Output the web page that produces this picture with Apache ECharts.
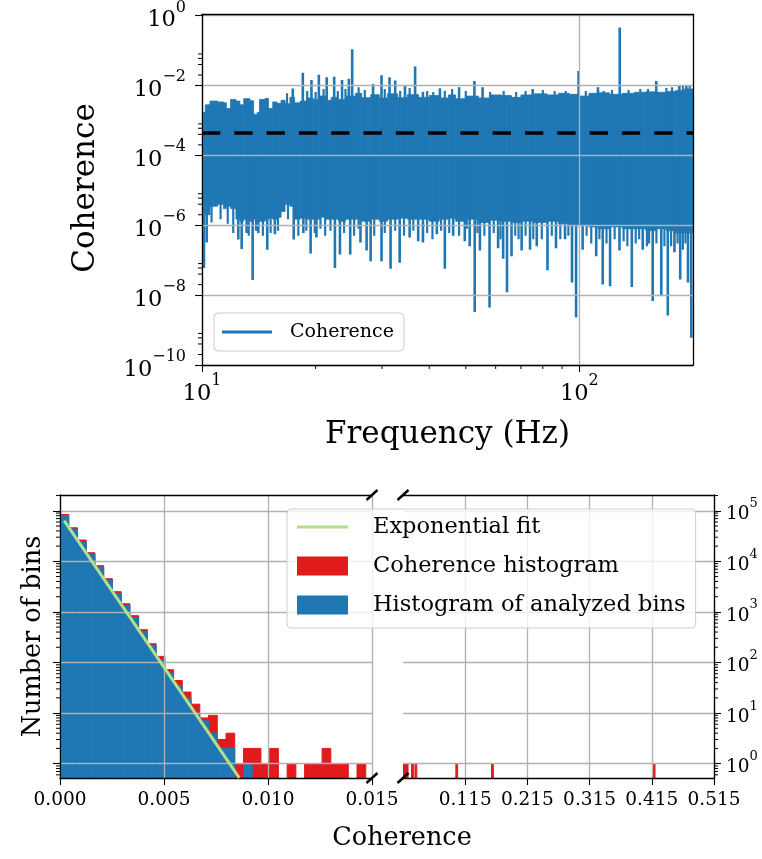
<!DOCTYPE html>
<html>
<head>
<meta charset="utf-8">
<script src="https://cdn.jsdelivr.net/npm/echarts@6/dist/echarts.min.js"></script>
<style>
html, body { margin: 0; padding: 0; background: #ffffff; }
#chart { width: 762px; height: 859px; }
</style>
</head>
<body>
<div id="chart"></div>
<script>
// ================= TOP PANEL DATA (coherence spectrum) =================
const freqRange = [10, 200];                // Hz
const coherenceRangeExp = [-10, 0.04];      // log10 of y-axis limits
const topXTickExp = [1, 2];                 // 10^1, 10^2
const topYTickExp = [-10, -8, -6, -4, -2, 0];
const topXMinorHz = [20, 30, 40, 50, 60, 70, 80, 90];
const topYMinor = [2e-2, 4e-2, 6e-2, 8e-2, 2e-4, 4e-4, 6e-4, 8e-4, 2e-6, 4e-6, 6e-6, 8e-6,
                   2e-8, 4e-8, 6e-8, 8e-8, 2e-10, 4e-10, 6e-10, 8e-10];

// solid core of the coherence trace: upper and lower envelope
const coreFreq = [10.0, 10.2, 10.5, 11.0, 11.4, 11.6, 11.9, 12.3, 12.6, 12.9, 13.4, 13.7, 14.0, 14.2, 14.7, 15.0,
  15.4, 15.8, 16.2, 16.6, 17.1, 17.6, 18.2, 18.9, 19.7, 20.5, 21.3, 22.0, 23.0, 24.0, 25.5, 26.5, 28.0, 29.5,
  31.0, 33.0, 35.0, 37.5, 40.0, 42.5, 45.0, 47.0, 50.0, 54.0, 58.0, 62.0, 66.0, 70.0, 76.0, 82.0, 88.0, 94.0,
  100, 106, 112, 120, 130, 140, 150, 160, 170, 180, 190, 200];
const coreHigh = [1.7e-3, 2.8e-3, 3.6e-3, 3.4e-3, 3.2e-3, 2.2e-3, 4.0e-3, 3.6e-3, 2.8e-3, 4.2e-3, 3.7e-3, 1.5e-3,
  1.7e-3, 4.0e-3, 4.3e-3, 2.2e-3, 3.4e-3, 3.1e-3, 3.8e-3, 3.0e-3, 4.6e-3, 3.2e-3, 3.6e-3, 4.4e-3, 4.0e-3, 5.0e-3,
  3.8e-3, 4.6e-3, 4.0e-3, 5.0e-3, 6.0e-3, 4.5e-3, 5.5e-3, 4.4e-3, 5.8e-3, 4.5e-3, 5.5e-3, 4.6e-3, 5.2e-3, 4.4e-3,
  5.4e-3, 4.2e-3, 5.0e-3, 4.4e-3, 5.4e-3, 5.2e-3, 4.6e-3, 5.4e-3, 5.8e-3, 5.4e-3, 6.0e-3, 5.6e-3, 5.0e-3, 6.0e-3,
  6.2e-3, 5.6e-3, 6.0e-3, 6.4e-3, 6.6e-3, 6.4e-3, 6.8e-3, 7.2e-3, 8.0e-3, 7.5e-3];
const coreLow = [2.5e-6, 2e-6, 3.5e-6, 4e-6, 3e-6, 3.5e-6, 3e-6, 1.5e-6, 1.3e-6, 1.5e-6, 1.3e-6, 1.5e-6, 1.6e-6,
  1.3e-6, 1.5e-6, 1.6e-6, 1.5e-6, 1.7e-6, 2.5e-6, 4e-6, 3.5e-6, 1.5e-6, 1.6e-6, 1.5e-6, 1.5e-6, 1.7e-6, 1.5e-6,
  1.5e-6, 1.3e-6, 1.5e-6, 1.5e-6, 1.3e-6, 1.5e-6, 1.3e-6, 1.5e-6, 1.6e-6, 1.5e-6, 1.5e-6, 1.3e-6, 1.5e-6, 1.6e-6,
  1.3e-6, 1.5e-6, 1.2e-6, 1.4e-6, 1.3e-6, 1.2e-6, 1.3e-6, 1.2e-6, 1.3e-6, 1.1e-6, 1e-6, 1e-6, 9e-7, 8e-7, 9e-7,
  8e-7, 8e-7, 7e-7, 8e-7, 7e-7, 6e-7, 6e-7, 5e-7];

// isolated excursions of the trace
const spikeUpFreq = [17.4, 18.5, 19.5, 20.4, 21.4, 22.4, 23.5, 24.5, 25.0, 28.4, 29.9, 31.4, 32.5, 34.5, 36.7,
  38.5, 42.7, 48.0, 52.7, 55.4, 75.2, 99.5, 112, 127.9, 159.8, 184, 192];
const spikeUpValue = [8.3e-3, 0.0234, 0.0145, 0.0205, 0.0173, 0.018, 0.0145, 0.0156, 0.11, 0.011, 0.0197, 0.0174,
  0.0139, 0.0098, 0.035, 0.0067, 0.0084, 0.009, 0.0136, 0.009, 0.008, 0.026, 0.009, 0.46, 0.0136, 0.0098, 0.0098];
// small teeth along the upper edge
const toothUpFreq = [16.8, 19.0, 20.0, 21.0, 22.9, 24.0, 26.0, 27.0, 30.5, 33.5, 35.5, 39.5, 41.0, 44.0, 46.0,
  50.0, 58.0, 63.0, 68.0, 72.0, 80.0, 86.0, 92.0, 104, 116, 122, 135, 145, 152, 170, 176, 188, 196];
const toothUpValue = [6e-3, 7e-3, 6.5e-3, 8e-3, 7e-3, 8e-3, 9e-3, 7.5e-3, 8e-3, 7e-3, 8.5e-3, 7e-3, 6.5e-3, 7e-3,
  8e-3, 7e-3, 6.5e-3, 7e-3, 6.5e-3, 7e-3, 7.5e-3, 7e-3, 7e-3, 7e-3, 7e-3, 7.5e-3, 7.5e-3, 8e-3, 8e-3, 8.5e-3,
  9e-3, 1e-2, 1e-2];
const spikeDownFreq = [10.12, 10.29, 12.48, 12.74, 13.13, 13.62, 14.1, 14.89, 15.6, 17.5, 18.56, 19.4, 20.1, 22.5,
  23.2, 24.7, 26.3, 27.3, 27.98, 29.9, 31.6, 33.4, 35.5, 37.4, 38.5, 41.9, 44.0, 46.3, 49.7, 51.2, 52.8, 54.5,
  57.8, 60.9, 62.8, 64.3, 66.1, 70.3, 74.0, 77.1, 82.3, 86.7, 91.6, 95.6, 98.0, 102, 110.8, 115.3, 120.6, 127.7,
  137.7, 147.2, 156.4, 164.8, 171.5, 178.6, 185, 194, 197.9];
const spikeDownValue = [6e-8, 3.2e-7, 3.9e-7, 2.1e-7, 6e-7, 2.7e-8, 6e-7, 2e-7, 5.5e-7, 3.9e-7, 6e-7, 1.55e-7,
  4.5e-7, 6e-8, 1.45e-7, 1.45e-7, 3.2e-7, 1.9e-7, 9.4e-8, 9.4e-8, 5.7e-8, 8.5e-8, 4.5e-7, 3.5e-7, 3.2e-7, 5.5e-7,
  5.7e-8, 5e-7, 3.5e-7, 2.5e-7, 3.3e-9, 1.9e-7, 4.4e-9, 2.2e-7, 1.1e-7, 1.2e-8, 1.3e-7, 1.9e-7, 2e-7, 2.5e-7,
  5.2e-8, 2.2e-7, 4e-7, 2.3e-8, 2.3e-9, 2e-7, 1.3e-7, 2e-8, 1.8e-8, 1.9e-7, 1.7e-8, 2e-7, 6.8e-9, 9.3e-9, 2.6e-9,
  1.7e-7, 2.8e-8, 2.3e-8, 6e-10];
// shallow fringe along the lower edge
const fringeDownFreq = [10.6, 11.2, 11.7, 12.1, 13.3, 13.9, 14.5, 15.2, 15.9, 16.9, 18.0, 18.9, 19.9, 20.6, 21.2,
  21.9, 23.8, 25.3, 26.0, 28.6, 30.5, 32.5, 34.3, 36.3, 39.5, 40.8, 43.0, 45.2, 48.0, 50.3, 53.7, 56.0, 59.3, 61.8,
  67.6, 69.0, 72.0, 75.5, 79.5, 84.5, 89.0, 93.5, 104.5, 107.5, 113, 118, 124, 131, 134, 141, 144, 151, 153, 160,
  168, 175, 182, 188, 191];
const fringeDownValue = [1.2e-6, 1.5e-6, 1.1e-6, 6e-7, 5e-7, 7e-7, 5e-7, 6e-7, 7e-7, 1.5e-6, 5e-7, 7e-7, 6e-7,
  8e-7, 5e-7, 7e-7, 6e-7, 5e-7, 8e-7, 5e-7, 6e-7, 7e-7, 5e-7, 7e-7, 6e-7, 4e-7, 7e-7, 6e-7, 5e-7, 8e-7, 6e-7, 5e-7,
  6e-7, 4e-7, 5e-7, 4e-7, 5e-7, 4e-7, 4e-7, 5e-7, 4e-7, 5e-7, 5e-7, 3e-7, 4e-7, 3e-7, 4e-7, 3.5e-7, 2.5e-7, 3e-7,
  4e-7, 2.5e-7, 3e-7, 3e-7, 2.5e-7, 2.5e-7, 3e-7, 2e-7, 3e-7];
const thresholdValue = 4.4e-4;

// ================= BOTTOM PANEL DATA (histograms) =================
const binWidth = 0.00042;
const coherenceHistogram = [84500, 46100, 26400, 14800, 8200, 4530, 2510, 1450, 841, 445, 235, 132, 72, 44, 26,
  15, 8, 9, 3, 4, 1, 2, 2, 1, 2, 0, 1, 0, 1, 1, 2, 1, 1, 0, 1];
const analyzedHistogram = [80000, 43500, 24600, 13700, 7700, 4200, 2320, 1350, 780, 412, 218, 114, 62, 35, 19,
  10, 7, 4, 2, 2, 0, 1];
const tailCoherence = [0.0155, 0.0175, 0.0195, 0.0215, 0.0300, 0.0355, 0.1012, 0.1586, 0.4185];
const tailCounts = [1, 1, 1, 1, 1, 1, 1, 1, 1];
const fitCoherence = [0.0002, 0.00862];
const fitCount = [63700, 0.524];
const countRange = [0.52, 2.05e5];
const breakAt = 0.015;
const leftXTicks = [0, 0.005, 0.010, 0.015];
const rightXTicks = [0.115, 0.215, 0.315, 0.415, 0.515];
const countTickExp = [0, 1, 2, 3, 4, 5];
const countMinor = [0.6, 0.7, 0.8, 0.9, 2, 3, 4, 5, 6, 7, 8, 9, 20, 30, 40, 50, 60, 70, 80, 90,
  200, 300, 400, 500, 600, 700, 800, 900, 2000, 3000, 4000, 5000, 6000, 7000, 8000, 9000,
  20000, 30000, 40000, 50000, 60000, 70000, 80000, 90000, 200000];

// ================= STYLE =================
const FONT = 'DejaVu Serif';
const BLUE = '#1f77b4';
const RED = '#e31a1c';
const GREEN = '#b2df8a';
const GRID_COLOR = '#b0b0b0';
const L10 = Math.log10;

const chart = echarts.init(document.getElementById('chart'), null, { renderer: 'canvas' });

function expLabel(v) {
  if (Math.abs(v - Math.round(v)) > 1e-6) return '';
  const n = Math.round(v);
  return '{b|10}{s|' + (n < 0 ? '\u2212' + (-n) : String(n)) + '}';
}
function richFor(base, sup) {
  return {
    b: { fontFamily: FONT, fontSize: base, color: '#000', lineHeight: base * 1.45, verticalAlign: 'bottom' },
    s: { fontFamily: FONT, fontSize: sup, color: '#000', lineHeight: sup * 1.05, verticalAlign: 'top' }
  };
}
const spineLine = { show: true, onZero: false, lineStyle: { color: '#000', width: 1.3 } };
const splitStyle = { show: true, lineStyle: { color: GRID_COLOR, width: 1.3 } };
const tickStyle = { show: true, length: 7, inside: false, lineStyle: { color: '#000', width: 1.1 } };

function spineAxis(gridIndex, position, min, max) {
  return {
    gridIndex, type: 'value', position, min, max, z: 3,
    axisLine: spineLine, axisTick: { show: false }, axisLabel: { show: false }, splitLine: { show: false }
  };
}

// ---------- renderers ----------
const coreData = coreFreq.map((f, i) => [L10(f), L10(coreHigh[i]), L10(coreLow[i])]);
function renderCore(params, api) {
  const i = params.dataIndexInside;
  if (i >= coreFreq.length - 1) return null;
  const x0 = api.value(0, i), x1 = api.value(0, i + 1);
  const hi = api.value(1, i), lo = api.value(2, i);
  const pts = [api.coord([x0, hi]), api.coord([x1, hi]), api.coord([x1, lo]), api.coord([x0, lo])];
  return { type: 'polygon', shape: { points: pts }, style: { fill: BLUE, stroke: BLUE, lineWidth: 0.8 } };
}
const midBand = L10(1e-4);
const spikeData = spikeUpFreq.map((f, i) => [L10(f), L10(spikeUpValue[i])])
  .concat(spikeDownFreq.map((f, i) => [L10(f), L10(spikeDownValue[i])]));
const fringeData = toothUpFreq.map((f, i) => [L10(f), L10(toothUpValue[i])])
  .concat(fringeDownFreq.map((f, i) => [L10(f), L10(fringeDownValue[i])]));
function spikeRenderer(width) {
  return function (params, api) {
    const p = api.coord([api.value(0), api.value(1)]);
    const q = api.coord([api.value(0), midBand]);
    return { type: 'line', shape: { x1: p[0], y1: p[1], x2: q[0], y2: q[1] }, style: { stroke: BLUE, lineWidth: width } };
  };
}
const countAxisMin = L10(countRange[0]);
const countAxisMax = L10(countRange[1]);
function barRenderer(color) {
  return function (params, api) {
    const top = api.coord([api.value(0), L10(api.value(2))]);
    const end = api.coord([api.value(1), countAxisMin]);
    let x = top[0], w = end[0] - top[0];
    if (w < 1.8) { x -= (1.8 - w) / 2; w = 1.8; }
    return { type: 'rect', shape: { x: x, y: top[1], width: w, height: end[1] - top[1] },
             style: { fill: color, stroke: color, lineWidth: 1 } };
  };
}
function tickRenderer(dx, dy) {
  return function (params, api) {
    const p = api.coord([api.value(0), api.value(1)]);
    return { type: 'line', shape: { x1: p[0], y1: p[1], x2: p[0] + dx, y2: p[1] + dy },
             style: { stroke: '#000', lineWidth: 1 } };
  };
}
function renderBreak(params, api) {
  const p = api.coord([api.value(0), api.value(1)]);
  return { type: 'line', shape: { x1: p[0] - 5.5, y1: p[1] + 5, x2: p[0] + 5.5, y2: p[1] - 5 },
           style: { stroke: '#000', lineWidth: 2.4 } };
}

const redLeft = coherenceHistogram.map((c, i) => [i * binWidth, (i + 1) * binWidth, c]).filter(d => d[2] > 0);
const blueLeft = analyzedHistogram.map((c, i) => [i * binWidth, (i + 1) * binWidth, c]).filter(d => d[2] > 0);
const redRight = tailCoherence.map((v, i) => [v - breakAt, v - breakAt + binWidth, tailCounts[i]]);

const lineIcon50 = 'path://M0,0L0,0M0,8.5L50,8.5L50,11.5L0,11.5ZM50,20L50,20';
const lineIcon51 = 'path://M0,0L0,0M0,8L51,8L51,11L0,11ZM51,19L51,19';

const option = {
  animation: false,
  backgroundColor: '#ffffff',
  textStyle: { fontFamily: FONT, color: '#000' },
  grid: [
    { left: 202, right: 69, top: 14.3, bottom: 494, outerBoundsMode: 'none' },
    { left: 60, right: 390, top: 495, bottom: 81, outerBoundsMode: 'none' },
    { left: 403, right: 48, top: 495, bottom: 81, outerBoundsMode: 'none' }
  ],
  xAxis: [
    { gridIndex: 0, type: 'value', min: L10(freqRange[0]), max: L10(freqRange[1]), interval: 1, z: 3,
      axisLine: spineLine, axisTick: Object.assign({ customValues: topXTickExp }, tickStyle),
      axisLabel: { customValues: topXTickExp, formatter: expLabel, margin: 8, rich: richFor(22.5, 16) },
      splitLine: splitStyle },
    spineAxis(0, 'top', L10(freqRange[0]), L10(freqRange[1])),
    { gridIndex: 1, type: 'value', min: 0, max: breakAt, interval: 0.005, z: 3,
      axisLine: spineLine, axisTick: Object.assign({ customValues: leftXTicks }, tickStyle),
      axisLabel: { customValues: leftXTicks, formatter: v => v.toFixed(3), margin: 13,
                   fontFamily: FONT, fontSize: 18.5, color: '#000' },
      splitLine: splitStyle },
    spineAxis(1, 'top', 0, breakAt),
    { gridIndex: 2, type: 'value', min: 0, max: 0.5, interval: 0.1, z: 3,
      axisLine: spineLine,
      axisTick: Object.assign({ customValues: rightXTicks.map(v => +(v - breakAt).toFixed(3)) }, tickStyle),
      axisLabel: { customValues: rightXTicks.map(v => +(v - breakAt).toFixed(3)),
                   formatter: v => (v + breakAt).toFixed(3), margin: 13,
                   fontFamily: FONT, fontSize: 18.5, color: '#000' },
      splitLine: splitStyle },
    spineAxis(2, 'top', 0, 0.5)
  ],
  yAxis: [
    { gridIndex: 0, type: 'value', min: coherenceRangeExp[0], max: coherenceRangeExp[1], interval: 2, z: 3,
      axisLine: spineLine, axisTick: Object.assign({ customValues: topYTickExp }, tickStyle),
      axisLabel: { customValues: topYTickExp, formatter: expLabel, margin: 16, rich: richFor(22.5, 16) },
      splitLine: splitStyle },
    spineAxis(0, 'right', coherenceRangeExp[0], coherenceRangeExp[1]),
    { gridIndex: 1, type: 'value', min: countAxisMin, max: countAxisMax, z: 3, position: 'left',
      axisLine: spineLine, axisTick: Object.assign({ customValues: countTickExp }, tickStyle),
      axisLabel: { show: false }, splitLine: splitStyle },
    { gridIndex: 2, type: 'value', min: countAxisMin, max: countAxisMax, z: 3, position: 'right',
      axisLine: spineLine, axisTick: Object.assign({ customValues: countTickExp }, tickStyle),
      axisLabel: { customValues: countTickExp, formatter: expLabel, margin: 12, rich: richFor(18.5, 13) },
      splitLine: splitStyle }
  ],
  legend: [
    { left: 214, top: 313, orient: 'horizontal', selectedMode: false,
      data: [{ name: 'Coherence', icon: lineIcon50, itemStyle: { borderWidth: 0 } }],
      itemWidth: 50, itemHeight: 20, padding: [9, 10, 9, 8],
      backgroundColor: 'rgba(255,255,255,0.8)', borderColor: '#cccccc', borderWidth: 1, borderRadius: 4,
      textStyle: { fontFamily: FONT, fontSize: 19, color: '#000', padding: [0, 0, 0, 13] } },
    { left: 287, top: 509, orient: 'vertical', selectedMode: false,
      data: [
        { name: 'Exponential fit', icon: lineIcon51, itemStyle: { borderWidth: 0 } },
        { name: 'Coherence histogram', icon: 'rect', itemStyle: { borderWidth: 0 } },
        { name: 'Histogram of analyzed bins', icon: 'rect', itemStyle: { borderWidth: 0 } }
      ],
      itemWidth: 51, itemHeight: 19, itemGap: 13, padding: [5, 10, 10, 10],
      backgroundColor: 'rgba(255,255,255,0.8)', borderColor: '#cccccc', borderWidth: 1, borderRadius: 4,
      textStyle: { fontFamily: FONT, fontSize: 22.5, lineHeight: 26, color: '#000', padding: [0, 0, 0, 20] } }
  ],
  graphic: [
    { type: 'text', x: 86, y: 188, rotation: Math.PI / 2, z: 10,
      style: { text: 'Coherence', fontFamily: FONT, fontSize: 31, fill: '#000', align: 'center', verticalAlign: 'middle' } },
    { type: 'text', x: 447.5, y: 435, z: 10,
      style: { text: 'Frequency (Hz)', fontFamily: FONT, fontSize: 31, fill: '#000', align: 'center', verticalAlign: 'middle' } },
    { type: 'text', x: 33, y: 636.5, rotation: Math.PI / 2, z: 10,
      style: { text: 'Number of bins', fontFamily: FONT, fontSize: 25.5, fill: '#000', align: 'center', verticalAlign: 'middle' } },
    { type: 'text', x: 402, y: 838, z: 10,
      style: { text: 'Coherence', fontFamily: FONT, fontSize: 25.5, fill: '#000', align: 'center', verticalAlign: 'middle' } }
  ],
  series: [
    // ---- top panel ----
    { name: 'Coherence', type: 'custom', xAxisIndex: 0, yAxisIndex: 0, data: coreData,
      encode: { x: 0, y: [1, 2] }, renderItem: renderCore, itemStyle: { color: BLUE }, clip: true, z: 2 },
    { name: 'Coherence', type: 'custom', xAxisIndex: 0, yAxisIndex: 0, data: fringeData,
      encode: { x: 0, y: 1 }, renderItem: spikeRenderer(2.2), itemStyle: { color: BLUE }, clip: true, z: 2 },
    { name: 'Coherence', type: 'custom', xAxisIndex: 0, yAxisIndex: 0, data: spikeData,
      encode: { x: 0, y: 1 }, renderItem: spikeRenderer(2.6), itemStyle: { color: BLUE }, clip: true, z: 2 },
    { name: 'threshold', type: 'line', xAxisIndex: 0, yAxisIndex: 0, symbol: 'none', z: 4,
      data: [[L10(freqRange[0]), L10(thresholdValue)], [L10(freqRange[1]), L10(thresholdValue)]],
      lineStyle: { color: '#000', width: 3.5, type: [18.3, 14] } },
    { name: 'topMinorY', type: 'custom', xAxisIndex: 0, yAxisIndex: 0, clip: false, z: 5,
      data: topYMinor.map(v => [L10(freqRange[0]), L10(v)]), renderItem: tickRenderer(-4, 0) },
    { name: 'topMinorX', type: 'custom', xAxisIndex: 0, yAxisIndex: 0, clip: false, z: 5,
      data: topXMinorHz.map(f => [L10(f), coherenceRangeExp[0]]), renderItem: tickRenderer(0, 4) },
    // ---- bottom-left panel ----
    { name: 'Coherence histogram', type: 'custom', xAxisIndex: 2, yAxisIndex: 2, data: redLeft,
      encode: { x: [0, 1], y: 2 }, renderItem: barRenderer(RED), itemStyle: { color: RED }, clip: true, z: 1 },
    { name: 'Histogram of analyzed bins', type: 'custom', xAxisIndex: 2, yAxisIndex: 2, data: blueLeft,
      encode: { x: [0, 1], y: 2 }, renderItem: barRenderer(BLUE), itemStyle: { color: BLUE }, clip: true, z: 2 },
    { name: 'Exponential fit', type: 'line', xAxisIndex: 2, yAxisIndex: 2, symbol: 'none', z: 4, clip: true,
      data: fitCoherence.map((x, i) => [x, L10(fitCount[i])]),
      itemStyle: { color: GREEN }, lineStyle: { color: GREEN, width: 3 } },
    { name: 'leftMinorY', type: 'custom', xAxisIndex: 2, yAxisIndex: 2, clip: false, z: 5,
      data: countMinor.map(v => [0, L10(v)]), renderItem: tickRenderer(-4, 0) },
    { name: 'breakLeft', type: 'custom', xAxisIndex: 2, yAxisIndex: 2, clip: false, z: 5,
      data: [[breakAt, countAxisMin], [breakAt, countAxisMax]], renderItem: renderBreak },
    // ---- bottom-right panel ----
    { name: 'Coherence histogram', type: 'custom', xAxisIndex: 4, yAxisIndex: 3, data: redRight,
      encode: { x: [0, 1], y: 2 }, renderItem: barRenderer(RED), itemStyle: { color: RED }, clip: true, z: 1 },
    { name: 'rightMinorY', type: 'custom', xAxisIndex: 4, yAxisIndex: 3, clip: false, z: 5,
      data: countMinor.map(v => [0.5, L10(v)]), renderItem: tickRenderer(4, 0) },
    { name: 'breakRight', type: 'custom', xAxisIndex: 4, yAxisIndex: 3, clip: false, z: 5,
      data: [[0, countAxisMin], [0, countAxisMax]], renderItem: renderBreak }
  ]
};
chart.setOption(option);
</script>
</body>
</html>
